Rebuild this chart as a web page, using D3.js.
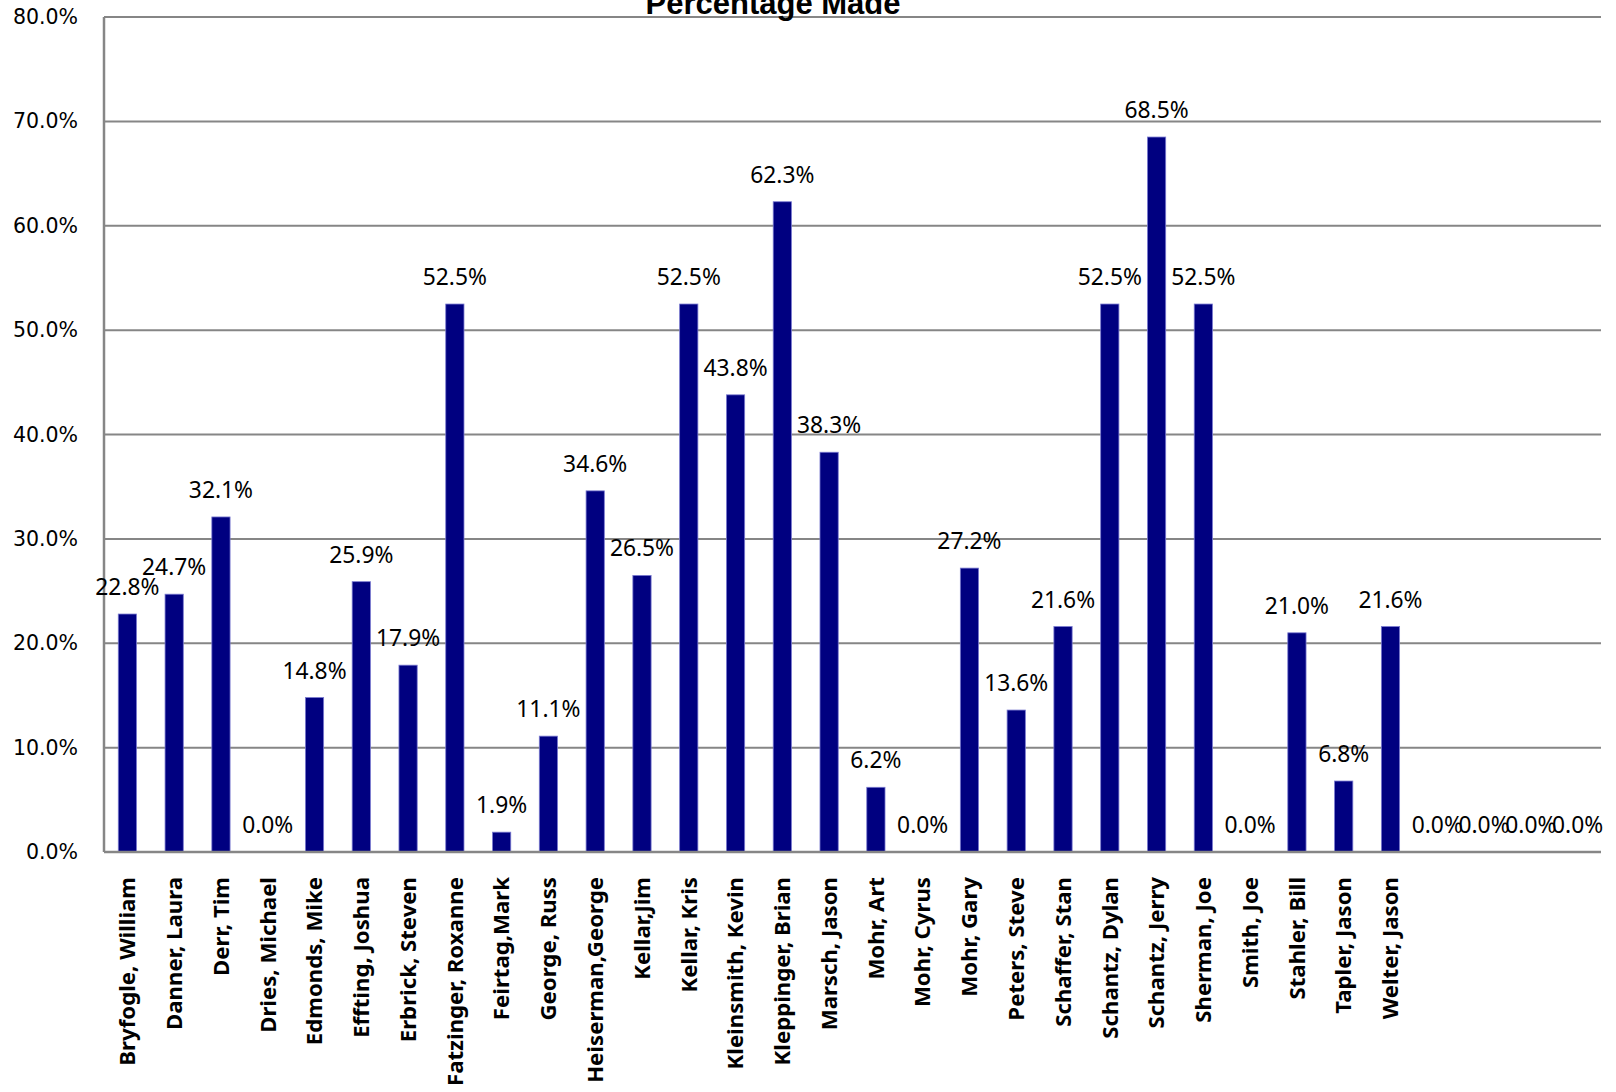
<!DOCTYPE html>
<html>
<head>
<meta charset="utf-8">
<script src="https://cdn.jsdelivr.net/npm/d3@7"></script>
<style>
  body { margin: 0; background: #fff; }
  svg { display: block; }
</style>
</head>
<body>
<div id="chart"></div>
<script>
var width = 1616,
    height = 1092;

// data
var names = ["Bryfogle, William", "Danner, Laura", "Derr, Tim", "Dries, Michael",
  "Edmonds, Mike", "Effting, Joshua", "Erbrick, Steven", "Fatzinger, Roxanne",
  "Feirtag,Mark", "George, Russ", "Heiserman,George", "Kellar,Jim", "Kellar, Kris",
  "Kleinsmith, Kevin", "Kleppinger, Brian", "Marsch, Jason", "Mohr, Art",
  "Mohr, Cyrus", "Mohr, Gary", "Peters, Steve", "Schaffer, Stan", "Schantz, Dylan",
  "Schantz, Jerry", "Sherman, Joe", "Smith, Joe", "Stahler, Bill", "Tapler, Jason",
  "Welter, Jason", "", "", "", ""];
var pctMade = [0.228, 0.247, 0.321, 0.0, 0.148, 0.259, 0.179, 0.525,
  0.019, 0.111, 0.346, 0.265, 0.525, 0.438, 0.623, 0.383, 0.062,
  0.0, 0.272, 0.136, 0.216, 0.525, 0.685, 0.525, 0.0, 0.210, 0.068,
  0.216, 0.0, 0.0, 0.0, 0.0];
var yTicks = [0, 0.1, 0.2, 0.3, 0.4, 0.5, 0.6, 0.7, 0.8];
var title = "Percentage Made";

var svg = d3.select("#chart")
    .append("svg")
    .attr("width", width)
    .attr("height", height);

var plotLeft = 104, plotRight = 1601, plotTop = 17, plotBottom = 852;

var x = d3.scaleBand()
    .domain(d3.range(pctMade.length))
    .range([plotLeft, plotRight])
    .paddingInner(0.61)
    .paddingOuter(0.305);

var y = d3.scaleLinear()
    .domain([0, 0.8])
    .range([plotBottom, plotTop]);

var fmt = d3.format(".1%");

// gridlines
svg.append("g")
    .selectAll("line")
    .data(yTicks.slice(1))
    .enter().append("line")
    .attr("x1", plotLeft)
    .attr("x2", plotRight)
    .attr("y1", function (d) { return y(d); })
    .attr("y2", function (d) { return y(d); })
    .attr("stroke", "#868686")
    .attr("stroke-width", 2);

// y axis
var yAxis = d3.axisLeft(y)
    .tickValues(yTicks)
    .tickFormat(fmt)
    .tickSize(0)
    .tickPadding(26);

var gy = svg.append("g")
    .attr("transform", "translate(" + plotLeft + ",0)")
    .call(yAxis);
gy.select(".domain").remove();
gy.selectAll("text")
    .attr("font-family", "DejaVu Sans, sans-serif")
    .attr("font-size", 20.5)
    .attr("fill", "#000");

// bars
svg.append("g")
    .selectAll("rect")
    .data(pctMade)
    .enter().append("rect")
    .attr("x", function (d, i) { return x(i); })
    .attr("y", function (d) { return y(d); })
    .attr("width", x.bandwidth())
    .attr("height", function (d) { return y(0) - y(d); })
    .attr("fill", "#000080")
    .attr("stroke", "#7a7ad0")
    .attr("stroke-width", 0.8);

// axis lines
svg.append("line")
    .attr("x1", plotLeft).attr("x2", plotLeft)
    .attr("y1", plotTop).attr("y2", plotBottom)
    .attr("stroke", "#868686").attr("stroke-width", 2.5);
svg.append("line")
    .attr("x1", plotLeft).attr("x2", plotRight)
    .attr("y1", plotBottom).attr("y2", plotBottom)
    .attr("stroke", "#868686").attr("stroke-width", 2.5);

// data labels
svg.append("g")
    .selectAll("text")
    .data(pctMade)
    .enter().append("text")
    .attr("x", function (d, i) { return x(i) + x.bandwidth() / 2; })
    .attr("y", function (d) { return y(d) - 19; })
    .attr("text-anchor", "middle")
    .attr("font-family", "Noto Sans, sans-serif")
    .attr("font-size", 22.8)
    .attr("fill", "#000")
    .text(function (d) { return fmt(d); });

// category labels
svg.append("g")
    .selectAll("text")
    .data(names)
    .enter().append("text")
    .attr("transform", function (d, i) {
        return "translate(" + (x(i) + x.bandwidth() / 2) + ",877) rotate(-90)";
    })
    .attr("dy", "0.35em")
    .attr("text-anchor", "end")
    .attr("font-family", "Noto Sans, sans-serif")
    .attr("font-weight", "bold")
    .attr("font-size", 22.2)
    .attr("fill", "#000")
    .text(function (d) { return d; });

// title (cut off at the top, as in the original)
svg.append("text")
    .attr("x", 773)
    .attr("y", 14)
    .attr("text-anchor", "middle")
    .attr("font-family", "Liberation Sans, Arial, sans-serif")
    .attr("font-weight", "bold")
    .attr("font-size", 31)
    .attr("fill", "#000")
    .text(title);
</script>
</body>
</html>
